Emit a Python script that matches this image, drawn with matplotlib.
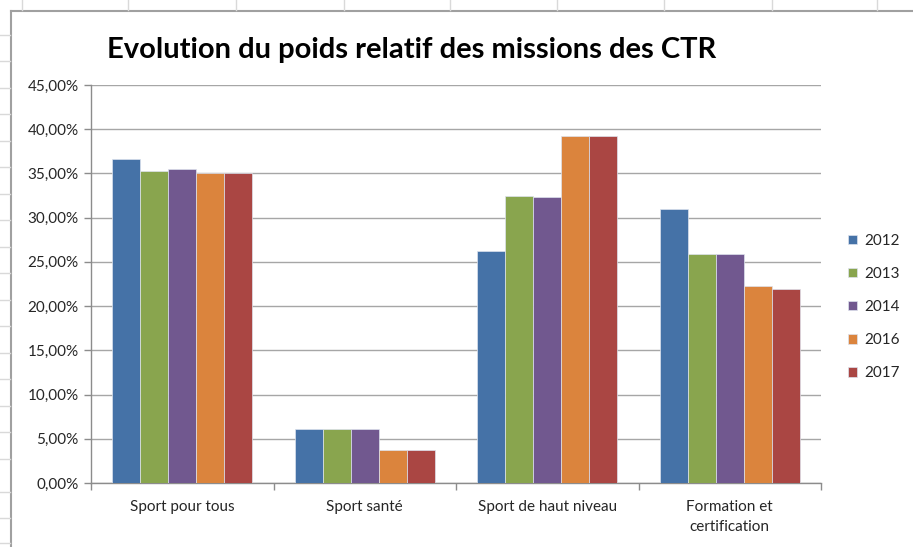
import numpy as np
import matplotlib
matplotlib.use("Agg")
import matplotlib.pyplot as plt
from matplotlib.lines import Line2D
from matplotlib.ticker import FuncFormatter, FixedLocator

plt.rcParams['font.family'] = ['Lato', 'DejaVu Sans']

# données (en %)
categories = ["Sport pour tous", "Sport santé", "Sport de haut niveau", "Formation et\ncertification"]
years = ["2012", "2013", "2014", "2016", "2017"]
v2012 = [36.65, 6.07, 26.24, 30.96]
v2013 = [35.33, 6.07, 32.47, 25.90]
v2014 = [35.48, 6.07, 32.30, 25.90]
v2016 = [35.03, 3.73, 39.25, 22.25]
v2017 = [35.03, 3.73, 39.25, 21.90]
series = [v2012, v2013, v2014, v2016, v2017]
colors = ["#4572A7", "#89A54E", "#71588F", "#DB843D", "#AA4643"]

fig = plt.figure(figsize=(9.13, 5.47), dpi=100)
ax = fig.add_axes([91/913, 1-483/547, (821-91)/913, (483-85)/547])

x = np.arange(len(categories))
w = 0.153
for i, (vals, c, y) in enumerate(zip(series, colors, years)):
    ax.bar(x + (i - 2) * w, vals, w, color=c, edgecolor="#dde3ee", linewidth=0.5, label=y, zorder=3)

ax.set_ylim(0, 45)
ax.set_xlim(-0.5, 3.5)
ax.set_yticks(np.arange(0, 46, 5))
ax.yaxis.set_major_formatter(FuncFormatter(lambda v, p: f"{v:.2f}%".replace(".", ",")))
ax.grid(axis="y", color="#a6a6a6", linewidth=1, zorder=0)

ax.xaxis.set_major_locator(FixedLocator(np.arange(-0.5, 3.6, 1)))
ax.xaxis.set_major_formatter(FuncFormatter(lambda v, p: ""))
ax.set_xticks(x, minor=True)
ax.set_xticklabels(categories, minor=True, linespacing=1.55)
ax.tick_params(axis="x", which="minor", length=0, pad=12, labelsize=11, labelcolor="#262626")
ax.tick_params(axis="x", which="major", length=5, color="#8c8c8c", width=1)
ax.tick_params(axis="y", length=5, color="#8c8c8c", width=1, labelsize=11, labelcolor="#262626", pad=4)

for s in ["top", "right"]:
    ax.spines[s].set_visible(False)
for s in ["left", "bottom"]:
    ax.spines[s].set_color("#8c8c8c")
    ax.spines[s].set_linewidth(1)

fig.text(412/913, 1-50/547, "Evolution du poids relatif des missions des CTR",
         ha="center", va="center", fontsize=21, fontweight="bold", color="black")

leg = ax.legend(loc="center left", bbox_to_anchor=(834/913, 1-307/547), bbox_transform=fig.transFigure,
                frameon=False, fontsize=11, handlelength=0.6, handleheight=0.6,
                handletextpad=0.5, labelspacing=1.25)
for t in leg.get_texts():
    t.set_color("#262626")

# bordure de la zone de graphique et quadrillage du tableur
fig.add_artist(Line2D([11/913, 11/913], [0, 1-11/547], color="#a0a0a0", lw=1.5))
fig.add_artist(Line2D([11/913, 1], [1-11/547, 1-11/547], color="#a0a0a0", lw=1.5))
for cx in [22, 128, 236, 344, 450, 557, 664, 772, 877]:
    fig.add_artist(Line2D([cx/913, cx/913], [1-10/547, 1], color="#d9d9d9", lw=1))
for ry in [35, 61, 88, 114, 141, 167, 194, 220, 247, 273, 300, 326, 353, 379, 406, 432, 459, 492, 518, 543]:
    fig.add_artist(Line2D([0, 10/913], [1-ry/547, 1-ry/547], color="#d9d9d9", lw=1))

fig.savefig("out.png", dpi=100)
